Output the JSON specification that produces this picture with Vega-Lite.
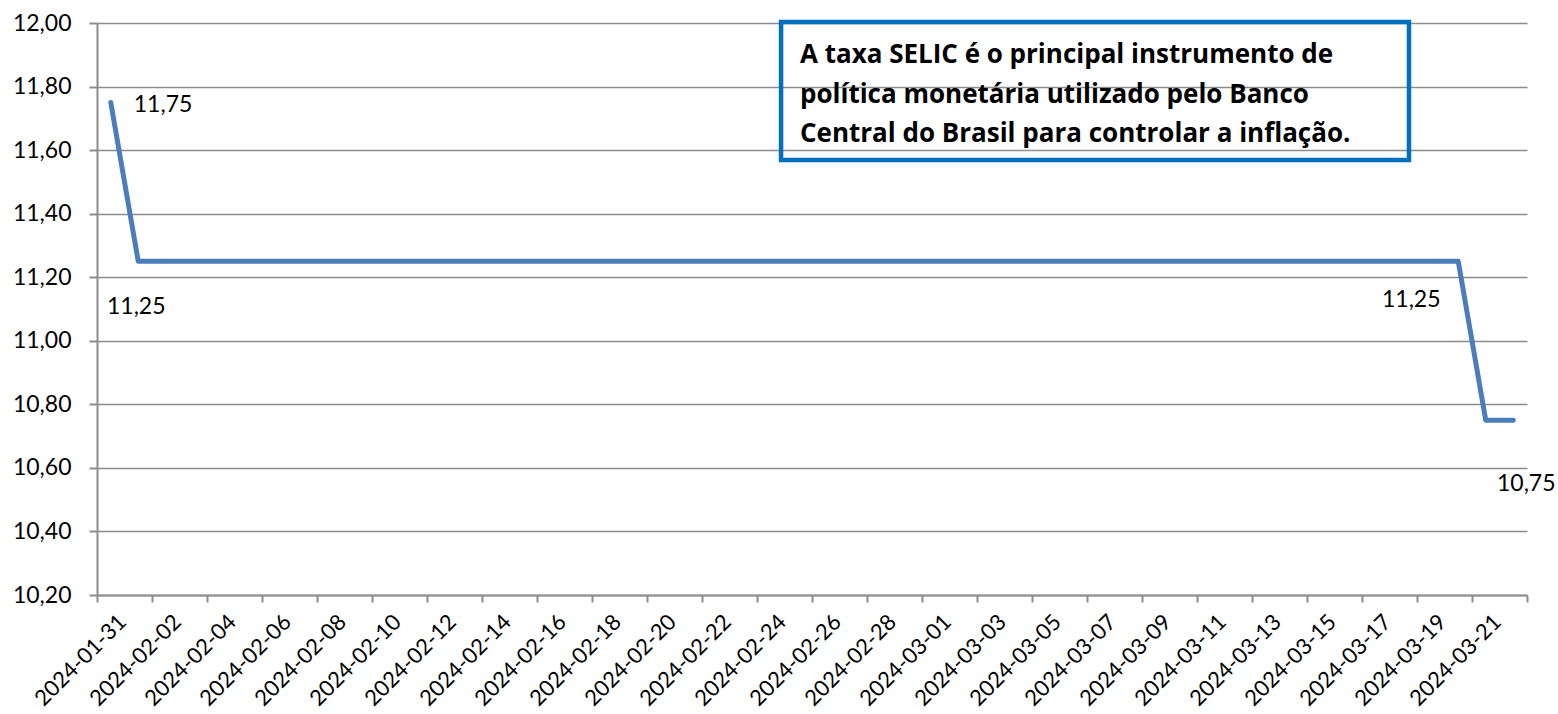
{
  "$schema": "https://vega.github.io/schema/vega-lite/v6.json",
  "width": 1430,
  "height": 572,
  "autosize": "none",
  "padding": {"left": 97, "top": 23, "right": 31, "bottom": 119},
  "background": "white",
  "config": {
    "view": {"stroke": null},
    "font": "Lato",
    "locale": {"number": {"decimal": ",", "thousands": ".", "grouping": [3], "currency": ["R$ ", ""]}}
  },
  "datasets": {
    "selic": [
      {"date": "2024-01-31", "taxa": 11.75},
      {"date": "2024-02-01", "taxa": 11.25},
      {"date": "2024-02-02", "taxa": 11.25},
      {"date": "2024-02-03", "taxa": 11.25},
      {"date": "2024-02-04", "taxa": 11.25},
      {"date": "2024-02-05", "taxa": 11.25},
      {"date": "2024-02-06", "taxa": 11.25},
      {"date": "2024-02-07", "taxa": 11.25},
      {"date": "2024-02-08", "taxa": 11.25},
      {"date": "2024-02-09", "taxa": 11.25},
      {"date": "2024-02-10", "taxa": 11.25},
      {"date": "2024-02-11", "taxa": 11.25},
      {"date": "2024-02-12", "taxa": 11.25},
      {"date": "2024-02-13", "taxa": 11.25},
      {"date": "2024-02-14", "taxa": 11.25},
      {"date": "2024-02-15", "taxa": 11.25},
      {"date": "2024-02-16", "taxa": 11.25},
      {"date": "2024-02-17", "taxa": 11.25},
      {"date": "2024-02-18", "taxa": 11.25},
      {"date": "2024-02-19", "taxa": 11.25},
      {"date": "2024-02-20", "taxa": 11.25},
      {"date": "2024-02-21", "taxa": 11.25},
      {"date": "2024-02-22", "taxa": 11.25},
      {"date": "2024-02-23", "taxa": 11.25},
      {"date": "2024-02-24", "taxa": 11.25},
      {"date": "2024-02-25", "taxa": 11.25},
      {"date": "2024-02-26", "taxa": 11.25},
      {"date": "2024-02-27", "taxa": 11.25},
      {"date": "2024-02-28", "taxa": 11.25},
      {"date": "2024-02-29", "taxa": 11.25},
      {"date": "2024-03-01", "taxa": 11.25},
      {"date": "2024-03-02", "taxa": 11.25},
      {"date": "2024-03-03", "taxa": 11.25},
      {"date": "2024-03-04", "taxa": 11.25},
      {"date": "2024-03-05", "taxa": 11.25},
      {"date": "2024-03-06", "taxa": 11.25},
      {"date": "2024-03-07", "taxa": 11.25},
      {"date": "2024-03-08", "taxa": 11.25},
      {"date": "2024-03-09", "taxa": 11.25},
      {"date": "2024-03-10", "taxa": 11.25},
      {"date": "2024-03-11", "taxa": 11.25},
      {"date": "2024-03-12", "taxa": 11.25},
      {"date": "2024-03-13", "taxa": 11.25},
      {"date": "2024-03-14", "taxa": 11.25},
      {"date": "2024-03-15", "taxa": 11.25},
      {"date": "2024-03-16", "taxa": 11.25},
      {"date": "2024-03-17", "taxa": 11.25},
      {"date": "2024-03-18", "taxa": 11.25},
      {"date": "2024-03-19", "taxa": 11.25},
      {"date": "2024-03-20", "taxa": 11.25},
      {"date": "2024-03-21", "taxa": 10.75},
      {"date": "2024-03-22", "taxa": 10.75}
    ],
    "box": [
      {"date": "2024-02-24T09:00:00Z", "date2": "2024-03-18T05:00:00Z", "taxa": 12.003, "taxa2": 11.569}
    ],
    "note": [
      {"date": "2024-02-25T01:30:00Z", "taxa": 11.874, "texto": ["A taxa SELIC é o principal instrumento de", "política monetária utilizado pelo Banco", "Central do Brasil para controlar a inflação."]}
    ]
  },
  "layer": [
    {
      "data": {"name": "selic"},
      "mark": {"type": "line", "color": "#4A7EBB", "strokeWidth": 5, "strokeCap": "round", "strokeJoin": "round"},
      "encoding": {
        "x": {
          "field": "date", "type": "temporal", "title": null,
          "scale": {"type": "utc", "domain": [{"year": 2024, "month": 1, "date": 30, "hours": 12, "utc": true}, {"year": 2024, "month": 3, "date": 22, "hours": 12, "utc": true}]},
          "axis": {
            "grid": false,
            "values": [1706616000000, 1706702400000, 1706788800000, 1706875200000, 1706961600000, 1707048000000, 1707134400000, 1707220800000, 1707307200000, 1707393600000, 1707480000000, 1707566400000, 1707652800000, 1707739200000, 1707825600000, 1707912000000, 1707998400000, 1708084800000, 1708171200000, 1708257600000, 1708344000000, 1708430400000, 1708516800000, 1708603200000, 1708689600000, 1708776000000, 1708862400000, 1708948800000, 1709035200000, 1709121600000, 1709208000000, 1709294400000, 1709380800000, 1709467200000, 1709553600000, 1709640000000, 1709726400000, 1709812800000, 1709899200000, 1709985600000, 1710072000000, 1710158400000, 1710244800000, 1710331200000, 1710417600000, 1710504000000, 1710590400000, 1710676800000, 1710763200000, 1710849600000, 1710936000000, 1711022400000, 1711108800000],
            "labelExpr": "(round((toNumber(datum.value) - 1706616000000) / 86400000) % 2 == 0 && toNumber(datum.value) < 1711108800000) ? utcFormat(toNumber(datum.value) + 43200000, '%Y-%m-%d') : ''",
            "labelAngle": -45,
            "labelOffset": 18,
            "labelOverlap": false,
            "labelFontSize": 22,
            "labelColor": "#000000",
            "labelPadding": 9,
            "tickSize": 7,
            "tickWidth": 2,
            "tickColor": "#8C8C8C",
            "domainColor": "#8C8C8C",
            "domainWidth": 2
          }
        },
        "y": {
          "field": "taxa", "type": "quantitative", "title": null,
          "scale": {"domain": [10.2, 12], "nice": false, "zero": false},
          "axis": {
            "values": [10.2, 10.4, 10.6, 10.8, 11.0, 11.2, 11.4, 11.6, 11.8, 12.0],
            "format": ".2f",
            "grid": true,
            "gridColor": "#8C8C8C",
            "gridWidth": 1.6,
            "tickSize": 8,
            "tickWidth": 2,
            "tickColor": "#8C8C8C",
            "domainColor": "#8C8C8C",
            "domainWidth": 2,
            "labelFontSize": 23,
            "labelColor": "#000000",
            "labelPadding": 18
          }
        }
      }
    },
    {
      "data": {"name": "box"},
      "mark": {"type": "rect", "filled": false, "stroke": "#0070C0", "strokeWidth": 4.5},
      "encoding": {
        "x": {"field": "date", "type": "temporal", "title": null},
        "x2": {"field": "date2"},
        "y": {"field": "taxa", "type": "quantitative", "title": null},
        "y2": {"field": "taxa2"}
      }
    },
    {
      "data": {"name": "note"},
      "mark": {"type": "text", "align": "left", "baseline": "alphabetic", "fontSize": 26, "fontWeight": "bold", "font": "Open Sans", "lineHeight": 39.5, "color": "#000000"},
      "encoding": {
        "x": {"field": "date", "type": "temporal", "title": null},
        "y": {"field": "taxa", "type": "quantitative", "title": null},
        "text": {"field": "texto"}
      }
    },
    {
      "data": {"name": "selic"},
      "transform": [{"filter": "utcFormat(datum.date, '%Y-%m-%d') == '2024-01-31'"}],
      "mark": {"type": "text", "align": "left", "baseline": "middle", "dx": 23, "dy": 3, "fontSize": 23, "color": "#000000"},
      "encoding": {
        "x": {"field": "date", "type": "temporal", "title": null},
        "y": {"field": "taxa", "type": "quantitative", "title": null},
        "text": {"field": "taxa", "type": "quantitative", "format": ".2f"}
      }
    },
    {
      "data": {"name": "selic"},
      "transform": [{"filter": "utcFormat(datum.date, '%Y-%m-%d') == '2024-02-01'"}],
      "mark": {"type": "text", "align": "center", "baseline": "middle", "dx": -2, "dy": 46, "fontSize": 23, "color": "#000000"},
      "encoding": {
        "x": {"field": "date", "type": "temporal", "title": null},
        "y": {"field": "taxa", "type": "quantitative", "title": null},
        "text": {"field": "taxa", "type": "quantitative", "format": ".2f"}
      }
    },
    {
      "data": {"name": "selic"},
      "transform": [{"filter": "utcFormat(datum.date, '%Y-%m-%d') == '2024-03-20'"}],
      "mark": {"type": "text", "align": "center", "baseline": "middle", "dx": -47, "dy": 39, "fontSize": 23, "color": "#000000"},
      "encoding": {
        "x": {"field": "date", "type": "temporal", "title": null},
        "y": {"field": "taxa", "type": "quantitative", "title": null},
        "text": {"field": "taxa", "type": "quantitative", "format": ".2f"}
      }
    },
    {
      "data": {"name": "selic"},
      "transform": [{"filter": "utcFormat(datum.date, '%Y-%m-%d') == '2024-03-22'"}],
      "mark": {"type": "text", "align": "center", "baseline": "middle", "dx": 13, "dy": 64, "fontSize": 23, "color": "#000000"},
      "encoding": {
        "x": {"field": "date", "type": "temporal", "title": null},
        "y": {"field": "taxa", "type": "quantitative", "title": null},
        "text": {"field": "taxa", "type": "quantitative", "format": ".2f"}
      }
    }
  ]
}
